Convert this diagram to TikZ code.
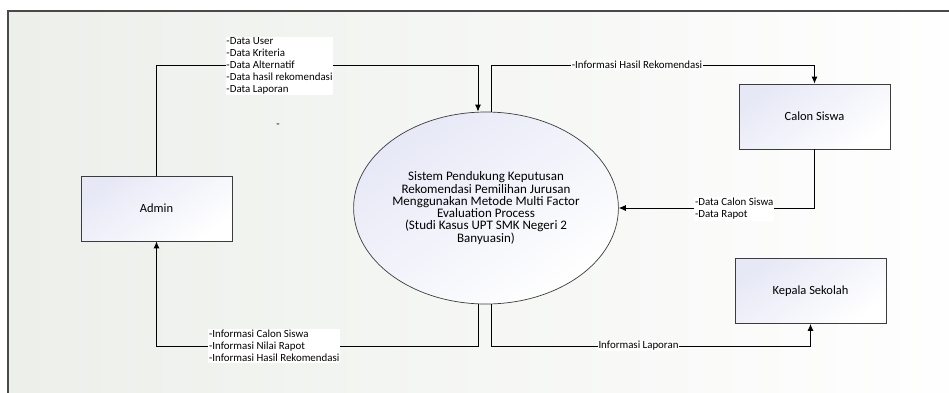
\documentclass[tikz,border=0pt]{standalone}
\usepackage{fontspec}
\setmainfont{Carlito}
\usepackage{xcolor}
\usetikzlibrary{arrows.meta, shapes.geometric}
\definecolor{dfdline}{HTML}{3C3C3C}
\definecolor{dfdframe}{HTML}{4A4A4A}
\definecolor{dfdback}{HTML}{ECEFEA}
\definecolor{dfdtint}{HTML}{E6E8F6}

\begin{document}
\begin{tikzpicture}[x=1pt, y=-1pt,
  entity/.style={draw=dfdline, line width=0.8pt, minimum width=151pt, minimum height=65pt,
    top color=dfdtint, bottom color=white, shading angle=35,
    font=\fontsize{12.5}{14}\selectfont},
  process/.style={ellipse, draw=dfdline, line width=0.7pt, minimum width=224pt,
    minimum height=192pt, inner sep=0pt, align=center,
    top color=dfdtint, bottom color=white, shading angle=35,
    font=\fontsize{13}{12.3}\selectfont},
  flowlbl/.style={fill=white, inner sep=0.8pt, align=left,
    font=\fontsize{10.9}{12.1}\selectfont},
  flow/.style={-{Latex[length=7pt, width=6pt]}, line width=0.9pt, draw=black}
]
\clip (0,0) rectangle (949,392);
\useasboundingbox (0,0) rectangle (949,392);
\fill[white] (0,0) rectangle (949,392);
\draw[dfdframe, line width=1.2pt, left color=dfdback, right color=white] (8,11) rectangle (990,430);

\node[entity] (admin) at (156.5,208.5) {Admin};
\node[process] (sys) at (486,208) {Sistem Pendukung Keputusan\\Rekomendasi Pemilihan Jurusan\\Menggunakan Metode Multi Factor\\Evaluation Process\\(Studi Kasus UPT SMK Negeri 2\\Banyuasin)};
\node[entity] (calon) at (814.5,116.5) {Calon Siswa};
\node[entity] (kepala) at (810.5,291) {Kepala Sekolah};

\coordinate (rowtop) at (0,65);
\coordinate (rowbot) at (0,346);

% data flows
\draw[flow] (admin.north) |- ([xshift=-8pt]sys.north |- rowtop) -- ([xshift=-8pt]sys.north);
\draw[flow] ([xshift=5pt]sys.north) |- (calon.north |- rowtop) -- (calon.north);
\draw[flow] (calon.south) |- (sys.east);
\draw[flow] ([xshift=-8pt]sys.south) |- (admin.south |- rowbot) -- (admin.south);
\draw[flow] ([xshift=5pt]sys.south) |- (kepala.south |- rowbot) -- (kepala.south);

% flow labels
\node[flowlbl] (lbldata) at (279.5,66) {-Data User\\-Data Kriteria\\-Data Alternatif\\-Data hasil rekomendasi\\-Data Laporan};
\node[flowlbl] (lblhasil) at (637,65) {-Informasi Hasil Rekomendasi};
\node[flowlbl, anchor=west] (lblcalon) at (694,209) {-Data Calon Siswa\\-Data Rapot};
\node[flowlbl, anchor=west] (lblinfo) at (208,346) {-Informasi Calon Siswa\\-Informasi Nilai Rapot\\-Informasi Hasil Rekomendasi};
\node[flowlbl] (lbllapor) at (638.5,346) {Informasi Laporan};
\node[font=\fontsize{10.9}{12}\selectfont] (dash) at (278,126) {-};
\end{tikzpicture}
\end{document}
